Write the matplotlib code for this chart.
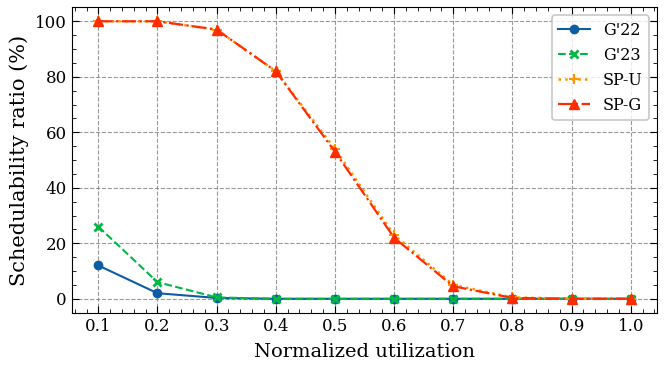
import matplotlib
matplotlib.use("Agg")
import matplotlib.pyplot as plt
from matplotlib.ticker import MultipleLocator

util = [0.1, 0.2, 0.3, 0.4, 0.5, 0.6, 0.7, 0.8, 0.9, 1.0]
g22 = [12, 2, 0.3, 0, 0, 0, 0, 0, 0, 0]
g23 = [26, 6, 0.5, 0, 0, 0, 0, 0, 0, 0]
spu = [100, 100, 97, 82, 54, 23, 5, 0.5, 0, 0]
spg = [100, 100, 97, 82, 53, 22, 4.5, 0.3, 0, 0]

plt.rcParams['font.family'] = ['DejaVu Serif']
plt.rcParams['xtick.direction'] = 'in'
plt.rcParams['ytick.direction'] = 'in'
plt.rcParams['xtick.top'] = True
plt.rcParams['ytick.right'] = True

fig, ax = plt.subplots(figsize=(6.64, 3.70), dpi=100)
fig.subplots_adjust(left=0.108, right=0.99, top=0.98, bottom=0.155)

ax.plot(util, g22, '-o', color='#0C5DA5', label="G'22", markersize=6, lw=1.5)
ax.plot(util, g23, '--x', color='#00B945', label="G'23", markersize=6, mew=2, lw=1.5)
ax.plot(util, spu, ':+', color='#FF9500', label='SP-U', markersize=7, mew=1.5, lw=1.8)
ax.plot(util, spg, '-.^', color='#FF2C00', label='SP-G', markersize=7, lw=1.6)

ax.set_xticks(util)
ax.set_xticklabels([f"{u:.1f}" for u in util])
ax.xaxis.set_minor_locator(MultipleLocator(0.02))
ax.yaxis.set_minor_locator(MultipleLocator(5))
ax.tick_params(which='major', length=5, labelsize=12)
ax.tick_params(which='minor', length=3)
ax.grid(True, which='major', linestyle='--', color='grey', alpha=0.8, lw=0.8)

ax.set_xlabel('Normalized utilization', fontsize=14, labelpad=6)
ax.set_ylabel('Schedulability ratio (%)', fontsize=15)

leg = ax.legend(loc='upper right', fontsize=11.5, fancybox=True, framealpha=0.8,
                edgecolor='#bbbbbb')
leg.get_frame().set_linewidth(1.2)

fig.savefig('out.png', dpi=100)
